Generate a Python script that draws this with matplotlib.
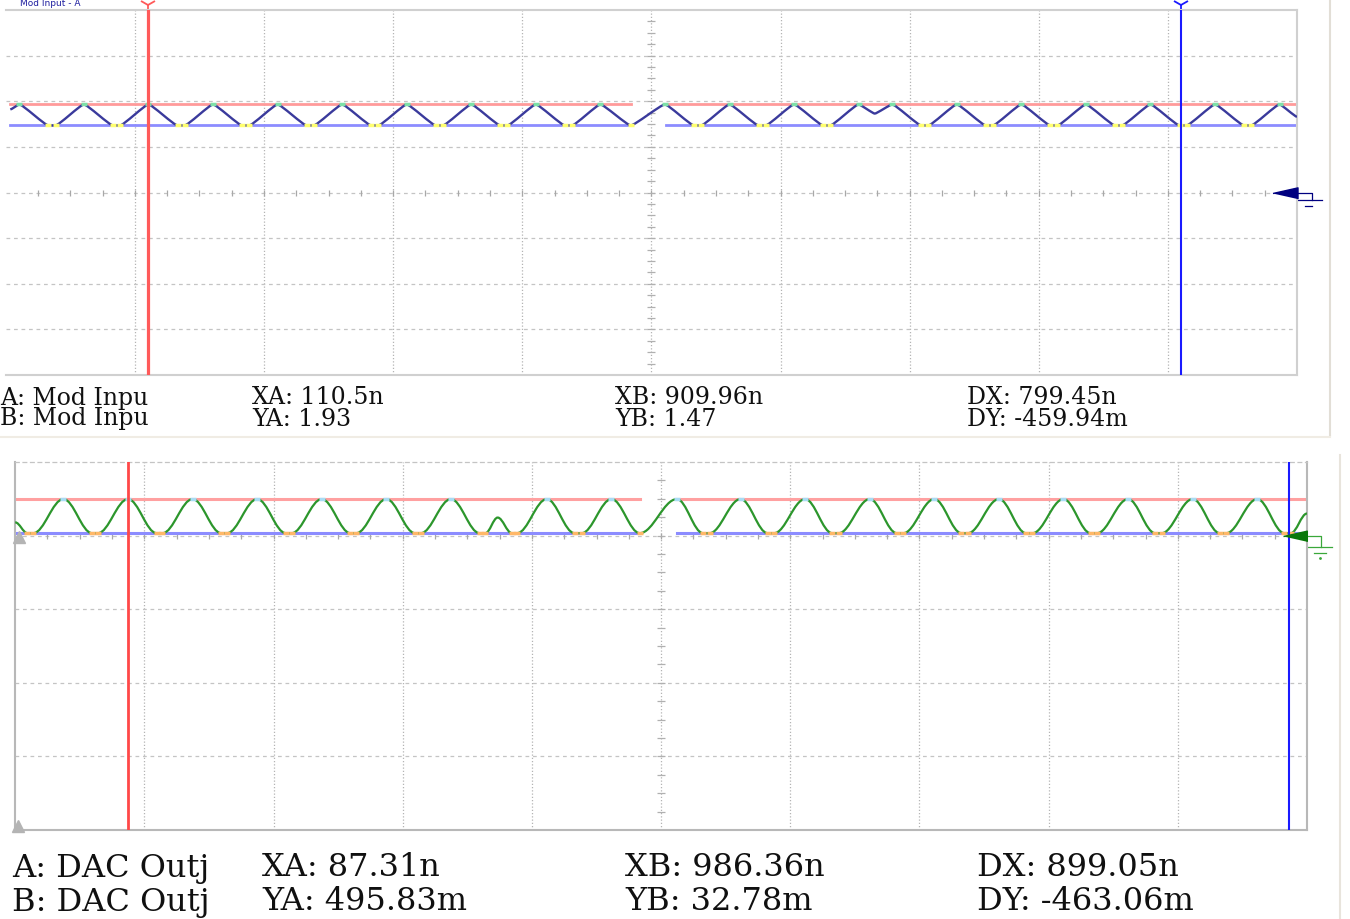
import numpy as np
import matplotlib.pyplot as plt
from matplotlib.path import Path
from matplotlib.patches import PathPatch
from matplotlib.lines import Line2D

W, H = 1350, 919

# ---- top trace: Mod Input (time in ns, volts) ----
top_hi, top_lo = 1.93, 1.47
top_peaks = [10.5, 60.5, 110.5, 160.5, 210.5, 260.5, 310.5, 360.5, 410.5, 460.5,
             510.5, 560.5, 610.5, 660.5, 686.5, 736.5, 786.5, 836.5, 886.5, 936.5, 986.5]
top_troughs = [33, 38.5, 83, 88.5, 133, 138.5, 183, 188.5, 233, 238.5, 283, 288.5,
               333, 338.5, 383, 388.5, 433, 438.5, 484, 533, 538.5, 583, 588.5,
               633, 638.5, 709, 714.5, 759, 764.5, 809, 814.5, 859, 864.5,
               909, 914.5, 959, 964.5]
top_extra_t = [3.5, 673, 1000]
top_extra_v = [1.82, 1.73, 1.66]
top_gap = [484, 511.5]
top_cursors = [110.5, 909.96]
top_rows = [["A: Mod Inpu", "XA: 110.5n", "XB: 909.96n", "DX: 799.45n"],
            ["B: Mod Inpu", "YA: 1.93", "YB: 1.47", "DY: -459.94m"]]

# ---- bottom trace: DAC Output ----
bot_hi, bot_lo = 0.496, 0.033
bot_peaks = [37.3, 87.3, 137.3, 187.3, 237.3, 287.3, 337.3, 411.5, 461.6, 512.2,
             561.5, 611.5, 661.5, 711.5, 761.5, 811.5, 861.5, 911.5, 961.5]
bot_troughs = [9.5, 14, 59.5, 64, 109.5, 114, 159.5, 164, 209.5, 214, 259.5, 264,
               309.5, 314, 359.5, 364, 384.5, 388.5, 433, 438.5, 483.5,
               532.5, 537.5, 582.5, 587.5, 632.5, 637.5, 682.5, 687.5, 732.5, 737.5,
               782.5, 787.5, 832.5, 837.5, 882.5, 887.5, 932.5, 937.5, 982.5, 987.5]
bot_extra_t = [0, 373.5, 1000]
bot_extra_v = [0.18, 0.245, 0.30]
bot_gap = [483.5, 512.5]
bot_cursors = [87.31, 986.36]
bot_rows = [["A: DAC Outj", "XA: 87.31n", "XB: 986.36n", "DX: 899.05n"],
            ["B: DAC Outj", "YA: 495.83m", "YB: 32.78m", "DY: -463.06m"]]


def trace(peaks, troughs, extra_t, extra_v, hi, lo):
    t = np.array(list(peaks) + list(troughs) + list(extra_t), float)
    v = np.array([hi] * len(peaks) + [lo] * len(troughs) + list(extra_v), float)
    o = np.argsort(t)
    return t[o], v[o]


def smooth_path(t, v, k):
    verts = [(t[0], v[0])]
    codes = [Path.MOVETO]
    for i in range(1, len(t)):
        dt = t[i] - t[i - 1]
        verts += [(t[i - 1] + k * dt, v[i - 1]), (t[i] - k * dt, v[i]), (t[i], v[i])]
        codes += [Path.CURVE4] * 3
    return Path(verts, codes)


def px_axes(fig, x0, x1, y0, y1):
    return fig.add_axes([x0 / W, 1 - y1 / H, (x1 - x0) / W, (y1 - y0) / H])


def scope_grid(ax, ylo, yhi):
    ax.set_xlim(0, 1000)
    ax.set_ylim(ylo, yhi)
    ax.set_facecolor("white")
    ax.tick_params(left=False, bottom=False, labelleft=False, labelbottom=False)
    for t in range(100, 1000, 100):
        ax.axvline(t, color="#b4b4b4", lw=0.9, ls=(0, (1, 1.6)), zorder=1)
    for v in range(int(ylo) + 1, int(yhi)):
        ax.axhline(v, color="#c4c4c4", lw=0.9, ls=(0, (3, 3)), zorder=1)
    # centre scales with small ticks
    ax.plot(np.arange(25, 1000, 25), np.zeros(39), ls="none", marker="|",
            ms=5, mew=0.9, color="#a8a8a8", zorder=1)
    vt = np.arange(ylo + 0.25, yhi, 0.25)
    ax.plot(np.full(len(vt), 500), vt, ls="none", marker="_",
            ms=6, mew=0.9, color="#b0b0b0", zorder=1)


fig = plt.figure(figsize=(W / 100, H / 100), dpi=100)
fig.patch.set_facecolor("white")

# ================= top panel =================
ax1 = px_axes(fig, 5.8, 1297, 10, 375)
scope_grid(ax1, -4, 4)
ax1.spines["left"].set_visible(False)
for s in ["top", "right", "bottom"]:
    ax1.spines[s].set_color("#d0d0d0")
    ax1.spines[s].set_linewidth(1.5)

t1, v1 = trace(top_peaks, top_troughs, top_extra_t, top_extra_v, top_hi, top_lo)
for lvl, col in [(top_hi, "#ff9a9a"), (top_lo, "#8c8cff")]:
    ax1.plot([t1[0], top_gap[0]], [lvl, lvl], color=col, lw=2, zorder=2)
    ax1.plot([top_gap[1], 1000], [lvl, lvl], color=col, lw=2, zorder=2)
ax1.add_patch(PathPatch(smooth_path(t1, v1, 0.12), fill=False,
                        edgecolor="#3a3a9c", lw=1.7, zorder=3))
ax1.plot(top_peaks, [top_hi] * len(top_peaks), ls="none", marker="_", ms=5, mew=2.5,
         color="#7ee0a8", zorder=4)
ax1.plot(top_troughs, [top_lo] * len(top_troughs), ls="none", marker="_", ms=4, mew=2.5,
         color="#ffff70", zorder=4)
ax1.axvline(top_cursors[0], color="#ff5a5a", lw=2.3, zorder=5)
ax1.axvline(top_cursors[1], color="#1a1aff", lw=1.5, zorder=5)
ax1.plot([top_cursors[0]], [4.1], marker="1", ms=12, mew=1.3, color="#ff5a5a", clip_on=False)
ax1.plot([top_cursors[1]], [4.1], marker="1", ms=12, mew=1.3, color="#1a1aff", clip_on=False)
# ground marker
tri = [(-1, 0), (1, 0.45), (1, -0.45)]
ax1.plot([990.5], [0], marker=tri, ms=18, color="#000080", ls="none", clip_on=False, zorder=6)
ax1.plot([1000, 1011.6, 1011.6], [0, 0, -0.175], color="#000080", lw=0.9, clip_on=False)
ax1.plot([1000.8, 1019.3], [-0.175, -0.175], color="#000080", lw=0.9, clip_on=False)
ax1.plot([1006, 1011.6], [-0.285, -0.285], color="#000080", lw=0.9, clip_on=False)

# ================= bottom panel =================
ax2 = px_axes(fig, 15.2, 1307, 462, 830)
scope_grid(ax2, -4, 1)
for s in ["left", "right", "bottom"]:
    ax2.spines[s].set_color("#b8b8b8")
    ax2.spines[s].set_linewidth(1.5)
ax2.spines["top"].set_color("#c4c4c4")
ax2.spines["top"].set_linestyle((0, (3, 3)))
ax2.spines["top"].set_linewidth(0.9)

t2, v2 = trace(bot_peaks, bot_troughs, bot_extra_t, bot_extra_v, bot_hi, bot_lo)
for lvl, col in [(bot_hi, "#ffa0a0"), (bot_lo, "#8c8cff")]:
    ax2.plot([0, bot_gap[0]], [lvl, lvl], color=col, lw=2.2, zorder=2)
    ax2.plot([bot_gap[1], 1000], [lvl, lvl], color=col, lw=2.2, zorder=2)
ax2.add_patch(PathPatch(smooth_path(t2, v2, 0.36), fill=False,
                        edgecolor="#2c962c", lw=1.6, zorder=3))
ax2.plot(bot_peaks, [bot_hi] * len(bot_peaks), ls="none", marker="_", ms=5, mew=2.5,
         color="#a8dcf4", zorder=4)
ax2.plot(bot_troughs, [bot_lo] * len(bot_troughs), ls="none", marker="_", ms=4, mew=2.5,
         color="#ffb868", zorder=4)
ax2.axvline(bot_cursors[0], color="#ff4848", lw=2.0, zorder=5)
ax2.axvline(bot_cursors[1], color="#1a1aff", lw=1.5, zorder=5)
ax2.plot([991], [0], marker=tri, ms=17, color="#0a780a", ls="none", clip_on=False, zorder=6)
ax2.plot([999.4, 1011, 1011], [0, 0, -0.15], color="#3aa83a", lw=0.9, clip_on=False)
ax2.plot([1000, 1019.6], [-0.15, -0.15], color="#3aa83a", lw=0.9, clip_on=False)
ax2.plot([1005.7, 1015], [-0.23, -0.23], color="#3aa83a", lw=0.9, clip_on=False)
ax2.plot([1010], [-0.31], marker=".", ms=2, color="#3aa83a", clip_on=False)
ax2.plot([3, 2], [-0.02, -3.95], ls="none", marker="^", ms=9, color="#b4b4b4",
         clip_on=False, zorder=6)

# ================= readouts =================
top_cols = [0, 252, 615, 967]
bot_cols = [12, 262, 625, 977]
for row, y in zip(top_rows, [398, 419]):
    for s, x in zip(row, top_cols):
        fig.text(x / W, 1 - y / H, s, fontsize=17, family="DejaVu Serif",
                 va="center", ha="left", color="#101010")
for row, y in zip(bot_rows, [868, 902]):
    for s, x in zip(row, bot_cols):
        fig.text(x / W, 1 - y / H, s, fontsize=23, family="DejaVu Serif",
                 va="center", ha="left", color="#101010")
fig.text(20 / W, 1 - 4 / H, "Mod Input - A", fontsize=6.5, color="#2020a0",
         va="center", ha="left")

# frame lines of the screenshot
fig.add_artist(Line2D([1330 / W] * 2, [1, 1 - 435 / H], color="#e2ded6", lw=1.5))
fig.add_artist(Line2D([0, 1330 / W], [1 - 437 / H] * 2, color="#f0ece4", lw=1.5))
fig.add_artist(Line2D([1340 / W] * 2, [1 - 455 / H, 0], color="#e8e4dc", lw=1.5))

fig.savefig("out.png", dpi=100, facecolor="white")
